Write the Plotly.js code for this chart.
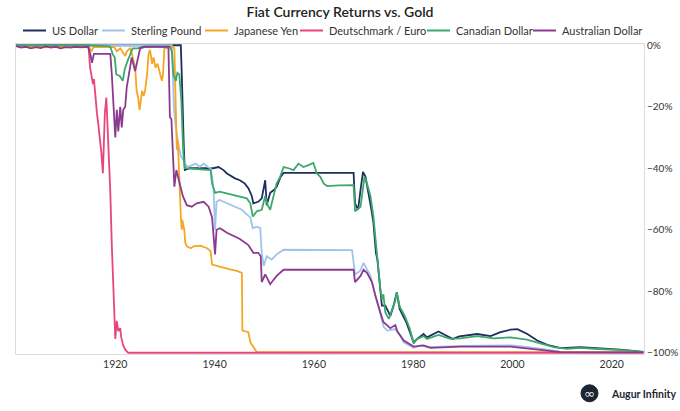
<!DOCTYPE html>
<html>
<head>
<meta charset="utf-8">
<script src="https://cdn.plot.ly/plotly-3.0.1.min.js"></script>
<style>html,body{margin:0;padding:0;background:#fff;}#chart{width:680px;height:411px;}</style>
</head>
<body>
<div id="chart"></div>
<script>
// ---- data (years, % return vs gold) ----
var usdYears = [1900,1933.2,1933.4,1933.6,1933.8,1934.0,1935,1937,1939,1939.7,1940.8,1941.8,1942.5,1943.1,1944.1,1945.1,1946.1,1946.8,1947.5,1947.8,1948.8,1949.5,1950.0,1950.2,1950.5,1951.2,1952.0,1952.5,1953.3,1953.9,1960,1965,1968.0,1968.3,1968.9,1969.4,1969.9,1970.4,1970.9,1971.6,1972.0,1972.5,1972.8,1973.3,1973.7,1974.4,1975.4,1976.0,1976.7,1977.3,1978.6,1980.1,1980.8,1982.1,1982.8,1985.1,1986.8,1988.0,1989.3,1992.9,1995.6,1997.6,1999.6,2001.0,2003.0,2005.0,2007.0,2009.7,2013.7,2017.7,2021.7,2026.4];
var usdValues = [0,0,-10,-25,-33,-40.6,-40,-40,-40,-40,-39.6,-40.6,-41.7,-42.3,-43.3,-43.9,-45,-46.5,-49,-51.4,-50.9,-49.8,-45,-43.9,-52,-48,-47,-46,-42.8,-41.5,-41.5,-41.5,-41.5,-51.4,-53.5,-47,-41.2,-42.8,-47,-53.5,-57.8,-67.5,-69.7,-77,-84.7,-84.7,-88,-85,-80.4,-85.8,-90,-96.6,-95.5,-93.9,-95,-93.1,-94.6,-95.5,-94.7,-93.9,-94.6,-93.3,-92.5,-92.3,-93.9,-96,-97.4,-98.5,-98.2,-98.5,-99,-99.7];

var gbpYears = [1900,1931.4,1931.6,1931.8,1932.2,1932.5,1932.8,1933.2,1934.0,1934.5,1935.5,1936.2,1937.0,1937.8,1938.6,1939.2,1939.5,1939.8,1940.1,1940.4,1941.0,1942.5,1943.8,1945.5,1946.5,1947.2,1947.7,1948.5,1949.2,1949.5,1949.9,1950.5,1951.5,1952.5,1953.9,1960,1967.7,1968.3,1969.3,1970.0,1970.7,1971.4,1972.4,1973.4,1974.1,1974.8,1976.1,1976.4,1977.4,1978.1,1980.1,1981.5,1983,1990,2000,2004,2009.7,2015,2026.4];
var gbpValues = [0,0,-10,-20,-26.7,-30,-33,-36,-38,-39.6,-39,-38.5,-39.6,-38.5,-39.6,-40,-42.8,-47,-60,-50.9,-50.3,-51.4,-52.5,-53.5,-55,-56,-59.5,-59,-59.5,-67.5,-71.8,-68.6,-69.7,-68,-66.5,-66.6,-66.6,-74.5,-73.4,-70.8,-72.9,-75,-81.5,-88,-91.7,-92.8,-92.5,-92.3,-94.4,-96.6,-98.4,-97.6,-98.2,-97.8,-97.6,-98.3,-99.6,-99.6,-99.8];

var jpyYears = [1900,1902,1904,1906,1908,1910,1912,1914.7,1915.2,1915.6,1919.8,1920.3,1921.0,1922.0,1922.3,1923.0,1923.3,1924.0,1924.3,1924.6,1924.9,1925.2,1925.4,1925.7,1926.0,1926.4,1926.7,1927.0,1927.4,1927.7,1928.1,1928.5,1929.0,1929.4,1929.6,1929.9,1931.5,1931.9,1932.1,1932.3,1932.4,1932.6,1932.8,1933.0,1933.2,1933.4,1933.5,1933.9,1934.1,1934.4,1935.2,1935.8,1937.1,1938.5,1939.2,1939.5,1940.5,1941.8,1943.1,1944.5,1945.5,1945.6,1946.8,1947.2,1948.2,1948.5,2026.4];
var jpyValues = [-0.3,-0.6,-0.4,-0.7,-0.3,-0.6,-0.4,-0.5,-2,-0.5,-0.6,-2,-1,-3.5,-2,-1,-2.5,-7.3,-14.8,-17,-21,-18,-14.8,-16.5,-14.8,-9.5,-3,-1.5,-6,-4,-7.3,-6,-9.5,-11.6,-9.5,-1,-0.5,-1,-14.8,-28.8,-34,-31,-41.7,-46,-55.7,-60,-56.8,-60,-64.3,-65.4,-66,-65.4,-65.2,-66,-67,-71.3,-71.8,-72.4,-72.9,-73.4,-74,-92.8,-93.3,-96.6,-99.3,-99.8,-99.8];

var demYears = [1900,1914.6,1914.9,1915.3,1915.5,1915.7,1916.0,1916.3,1916.6,1916.9,1917.2,1917.5,1917.7,1917.9,1918.2,1918.5,1918.7,1919.0,1919.3,1919.6,1919.8,1920.0,1920.3,1920.6,1921.0,1921.2,1921.6,1922.0,1922.6,2026.4];
var demValues = [0,0,-7,-11,-12.6,-11,-18,-22,-26,-30,-35,-41.6,-30,-22,-17,-28,-36,-48,-65,-80,-90,-95.5,-89.6,-93,-92,-95,-97.6,-99,-100,-100];

var cadYears = [1900,1914,1918.5,1919.0,1919.5,1919.9,1920.2,1920.9,1921.5,1921.9,1922.5,1923.5,1924.5,1925.5,1931.0,1931.4,1931.7,1932.2,1932.5,1932.9,1933.1,1933.3,1933.5,1933.7,1934.0,1939.2,1939.5,1940.1,1941.0,1942.5,1943.8,1945.1,1946.5,1947.2,1947.7,1948.5,1949.5,1950.2,1950.7,1951.2,1951.9,1952.5,1953.2,1953.9,1954.9,1955.9,1956.9,1957.9,1958.9,1959.9,1960.6,1961.3,1962.0,1962.7,1965,1968.0,1968.3,1969.4,1970.2,1970.7,1971.4,1972.0,1972.6,1973.1,1973.4,1973.7,1974.0,1974.4,1975.1,1975.8,1976.4,1976.7,1977.3,1978.3,1979.3,1980.1,1980.8,1982.1,1982.8,1985.1,1987.5,1989.5,1992.9,1996.2,1999.6,2002.9,2005.6,2008.3,2011.0,2013.7,2016.4,2019.8,2023.1,2026.4];
var cadValues = [0,0,-0.3,-0.5,-3,-4,-9.5,-10,-11.6,-7.8,-5,-1,-1,-0.5,-0.5,-2,-9.5,-11.6,-9,-9.5,-13.8,-18,-26.7,-35,-40,-40.6,-45,-48,-47.6,-48.2,-48.7,-49,-49.8,-51.4,-55.7,-54,-53.5,-49,-52,-53.5,-49,-45,-42.8,-39.6,-40,-40.6,-38.5,-39.6,-39,-38.3,-41.7,-42.8,-45,-45.8,-45.6,-45.5,-54,-52.5,-42.8,-45,-49,-55.7,-66,-75,-79.4,-82.6,-81,-86.9,-89,-85.8,-83,-80.4,-85,-88,-92,-97,-95.5,-94.6,-95.5,-94.2,-95.5,-95.3,-94.6,-95.3,-95,-95.7,-97,-98.2,-98.7,-98.4,-98.7,-99,-99.2,-99.8];

var audYears = [1900,1901,1902,1903,1904,1905,1906,1907,1908,1909,1910,1911,1912,1913,1914.5,1915.0,1915.3,1915.7,1916.5,1919.0,1919.3,1919.7,1920.0,1920.3,1920.6,1921.0,1921.3,1921.6,1922.0,1922.3,1923.0,1923.3,1924.0,1924.6,1925.0,1926,1930.7,1931.0,1931.3,1931.7,1931.9,1932.3,1932.9,1933.6,1934.4,1935.4,1936.4,1937.8,1938.8,1939.5,1939.8,1940.1,1940.4,1941.1,1942.5,1943.8,1945.1,1946.8,1947.8,1948.8,1949.3,1949.5,1950.2,1951.2,1952.5,1953.9,1960,1968.0,1968.3,1969.4,1970.0,1970.7,1971.7,1972.4,1973.4,1974.0,1975.4,1976.4,1976.8,1978.1,1980.1,1982.1,1983.5,1989.5,1999.6,2006,2009.7,2026.4];
var audValues = [-0.3,-0.8,-0.5,-1,-0.6,-0.9,-0.4,-0.8,-0.5,-1,-0.6,-0.8,-0.5,-0.7,-0.5,-3,-5.7,-2.8,-2.8,-2.8,-9.5,-20,-30,-21,-28,-20,-26.7,-21,-20,-13.8,-7.3,-4,-8.4,-4,-1,-0.5,-0.5,-23.4,-24,-38.5,-46,-40.6,-45,-49,-52,-52.5,-51.4,-50.9,-52.5,-56,-62,-68,-60,-59.5,-61,-62,-63,-65,-67.5,-67.5,-68.6,-77,-74.5,-77.7,-75,-73,-73,-73,-77,-75,-73,-74,-77,-81.5,-86.9,-90,-92,-91,-93,-96,-98,-97.6,-98.4,-98,-98,-99,-99.8,-99.9];

var seriesNames = ['US Dollar','Sterling Pound','Japanese Yen','Deutschmark / Euro','Canadian Dollar','Australian Dollar'];
var seriesColors = ['#1c2f5f','#9fc4e8','#f5a623','#e8457c','#3ca86c','#8a3b8f'];
var xTickVals = [1920,1940,1960,1980,2000,2020];
var yTickVals = [-100,-80,-60,-40,-20,0];
var yTickText = ['\u2212100%','\u221280%','\u221260%','\u221240%','\u221220%','0%'];

var xs = [usdYears,gbpYears,jpyYears,demYears,cadYears,audYears];
var ys = [usdValues,gbpValues,jpyValues,demValues,cadValues,audValues];

var traces = seriesNames.map(function(n,i){
  return {x: xs[i], y: ys[i], name: n, type: 'scatter', mode: 'lines',
          line: {color: seriesColors[i], width: 1.8}};
});

// pixel -> paper helpers (plot area: x 16..644, y 44..354)
var PX = function(px){ return (px-16)/628; };
var PY = function(py){ return (354-py)/310; };

// legend drawn as line shapes + text annotations, positioned like the reference
var legendLineStart = [23, 102, 205, 300, 427, 533];
var legendY = PY(30.5);
var shapes = [];
var annotations = [];
seriesNames.forEach(function(n,i){
  shapes.push({type: 'line', xref: 'paper', yref: 'paper',
    x0: PX(legendLineStart[i]), x1: PX(legendLineStart[i] + 23), y0: legendY, y1: legendY,
    line: {color: seriesColors[i], width: 2}});
  annotations.push({xref: 'paper', yref: 'paper', x: PX(legendLineStart[i] + 27), y: legendY,
    text: n, showarrow: false, xanchor: 'left', yanchor: 'middle',
    font: {size: 11, color: '#333'}});
});

shapes.push({type: 'circle', xref: 'paper', yref: 'paper', layer: 'above',
  x0: PX(581), x1: PX(598), y0: PY(401.8), y1: PY(384.8),
  fillcolor: '#1d2535', line: {color: '#1d2535', width: 1}});
annotations.push({xref: 'paper', yref: 'paper', x: PX(589.5), y: PY(393.5), text: '∞', showarrow: false,
  xanchor: 'center', yanchor: 'middle', font: {size: 13, color: '#e9e9ee', family: 'DejaVu Sans'}});
annotations.push({xref: 'paper', yref: 'paper', x: PX(609), y: PY(393.5), text: '<b>Augur Infinity</b>', showarrow: false,
  xanchor: 'left', yanchor: 'middle', font: {size: 10.5, color: '#1d2535'}});

var layout = {
  width: 680, height: 411,
  margin: {l: 16, r: 36, t: 44, b: 57, autoexpand: false},
  paper_bgcolor: '#fff', plot_bgcolor: '#fff',
  font: {family: 'Lato, "Open Sans", sans-serif', size: 11, color: '#333'},
  title: {text: 'Fiat Currency Returns vs. Gold', x: 0.5, xanchor: 'center', y: 1 - 12.5/411, yanchor: 'middle',
          font: {family: 'Lato, sans-serif', size: 14, color: '#222', weight: 600}},
  showlegend: false,
  xaxis: {range: [1900, 2026.5], tickmode: 'array', tickvals: xTickVals, ticks: '', showgrid: false, zeroline: false,
          showline: true, mirror: true, linecolor: '#dcdcdc', linewidth: 1,
          tickfont: {size: 10.5, color: '#333'}},
  yaxis: {range: [-100.4, 0.4], side: 'right', tickmode: 'array', tickvals: yTickVals, ticktext: yTickText, ticks: '',
          showgrid: false, zeroline: false, showline: true, mirror: true, linecolor: '#dcdcdc', linewidth: 1,
          tickfont: {size: 10, color: '#333'}},
  shapes: shapes,
  annotations: annotations
};

Plotly.newPlot('chart', traces, layout, {displayModeBar: false, staticPlot: true});
</script>
</body>
</html>
